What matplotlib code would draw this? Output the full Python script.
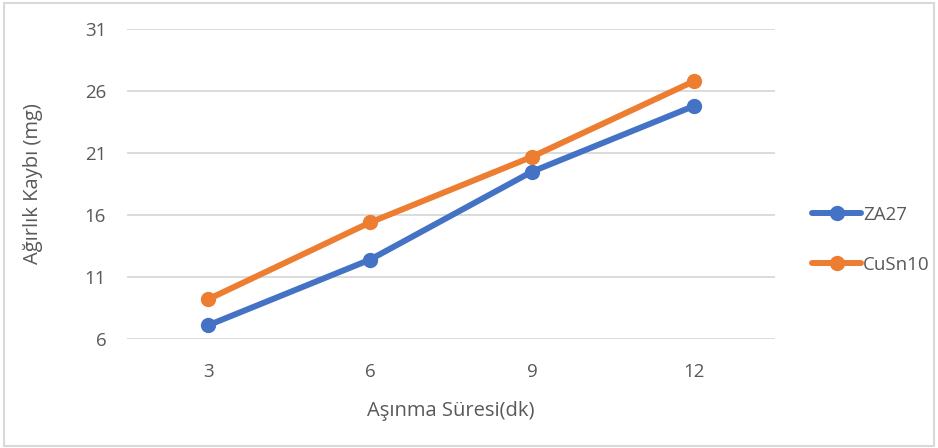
import matplotlib.pyplot as plt
from matplotlib.patches import Rectangle

plt.rcParams['font.family'] = ['Open Sans', 'DejaVu Sans']

# wear time (minutes) and weight loss (mg)
times = ['3', '6', '9', '12']
za27 = [7.1, 12.4, 19.5, 24.8]
cusn10 = [9.2, 15.4, 20.7, 26.8]

TEXT = '#595959'
GRID = '#D9D9D9'

fig = plt.figure(figsize=(9.38, 4.48), dpi=100)
ax = fig.add_axes([0.1354, 0.2433, 0.6908, 0.6917])

x = range(len(times))
ax.plot(x, za27, color='#4472C4', lw=4.3, marker='o', ms=10, label='ZA27', solid_capstyle='round')
ax.plot(x, cusn10, color='#ED7D31', lw=4.3, marker='o', ms=10, label='CuSn10', solid_capstyle='round')

ax.set_xlim(-0.5, len(times) - 0.5)
ax.set_ylim(6, 31)
ax.set_yticks(range(6, 32, 5))
ax.set_xticks(list(x))
ax.set_xticklabels(times)
ax.grid(axis='y', color=GRID, lw=1.3)
ax.set_axisbelow(True)
for s in ax.spines.values():
    s.set_visible(False)
ax.tick_params(length=0, labelsize=13.5, colors=TEXT, pad=17)
ax.tick_params(axis='y', pad=15)
ax.set_xlabel('Aşınma Süresi(dk)', fontsize=14.5, color=TEXT, labelpad=15)
ax.set_ylabel('Ağırlık Kaybı (mg)', fontsize=14.5, color=TEXT, labelpad=30)

leg = fig.legend(loc='center left', bbox_to_anchor=(0.848, 0.465), frameon=False,
                 fontsize=13.5, handlelength=2.6, labelspacing=1.7, handletextpad=0.1)
for t in leg.get_texts():
    t.set_color(TEXT)

# chart border
fig.patches.append(Rectangle((0.004, 0.004), 0.992, 0.99, transform=fig.transFigure,
                             fill=False, edgecolor=GRID, lw=1.5))

fig.savefig('out.png', dpi=100)
